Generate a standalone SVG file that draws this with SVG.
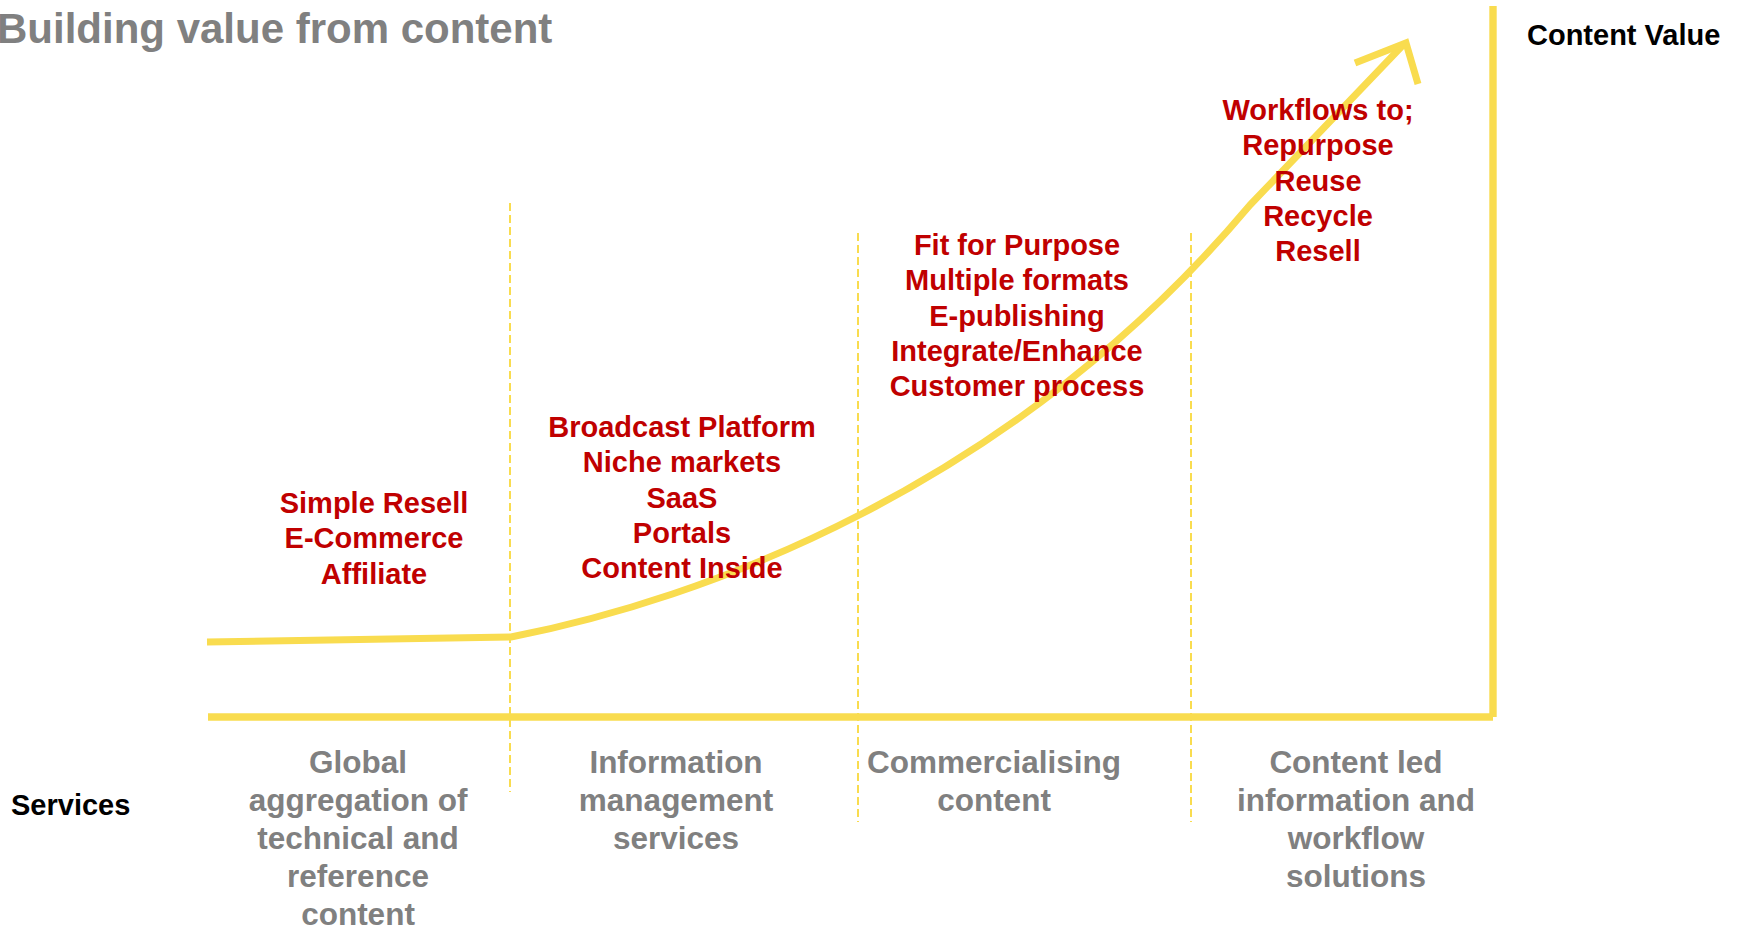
<svg xmlns="http://www.w3.org/2000/svg" width="1743" height="930" viewBox="0 0 1743 930">
  <style>
    text { font-family: "Liberation Sans", Arial, sans-serif; font-weight: bold; }
    .title { font-size: 42px; fill: #808080; }
    .axis-label { font-size: 29px; fill: #000000; }
    .offer { font-size: 29px; fill: #C00000; text-anchor: middle; }
    .service { font-size: 31.5px; fill: #808080; text-anchor: middle; }
    .axis { stroke: #F9DC4F; stroke-width: 7.4; fill: none; stroke-linecap: butt; }
    .divider { stroke: #F9DC4F; stroke-width: 2; stroke-dasharray: 8 4; fill: none; }
    .growth { stroke: #F9DC4F; stroke-width: 7; fill: none; stroke-linecap: butt; stroke-linejoin: round; }
    .head { stroke: #F9DC4F; stroke-width: 7; fill: none; stroke-linecap: butt; stroke-linejoin: miter; stroke-miterlimit: 10; }
  </style>

  <rect width="1743" height="930" fill="#FFFFFF"/>

  <text id="title" class="title" x="-3" y="43">Building value from content</text>

  <g id="axis-labels">
    <text class="axis-label" x="1527" y="45">Content Value</text>
    <text class="axis-label" x="11" y="815">Services</text>
  </g>

  <g id="connectors">
    <!-- stage dividers -->
    <line class="divider" x1="510" y1="203" x2="510" y2="792"/>
    <line class="divider" x1="858" y1="233" x2="858" y2="822"/>
    <line class="divider" x1="1191" y1="233" x2="1191" y2="822"/>
    <!-- axes -->
    <line class="axis" x1="208" y1="717" x2="1493" y2="717"/>
    <line class="axis" x1="1493" y1="6" x2="1493" y2="717"/>
    <!-- value growth curve with open arrowhead -->
    <path class="growth" d="M207,642 L511,637 C700,600 1010,490 1250,205 L1404,44"/>
    <polyline class="head" points="1355,63 1406,43 1418,84"/>
  </g>

  <g id="stage-aggregation">
    <text class="offer" x="374" y="513">Simple Resell</text>
    <text class="offer" x="374" y="548.3">E-Commerce</text>
    <text class="offer" x="374" y="583.6">Affiliate</text>
    <text class="service" x="358" y="773">Global</text>
    <text class="service" x="358" y="811">aggregation of</text>
    <text class="service" x="358" y="849">technical and</text>
    <text class="service" x="358" y="887">reference</text>
    <text class="service" x="358" y="925">content</text>
  </g>

  <g id="stage-information">
    <text class="offer" x="682" y="437">Broadcast Platform</text>
    <text class="offer" x="682" y="472.3">Niche markets</text>
    <text class="offer" x="682" y="507.6">SaaS</text>
    <text class="offer" x="682" y="542.9">Portals</text>
    <text class="offer" x="682" y="578.2">Content Inside</text>
    <text class="service" x="676" y="773">Information</text>
    <text class="service" x="676" y="811">management</text>
    <text class="service" x="676" y="849">services</text>
  </g>

  <g id="stage-commercialising">
    <text class="offer" x="1017" y="255">Fit for Purpose</text>
    <text class="offer" x="1017" y="290.3">Multiple formats</text>
    <text class="offer" x="1017" y="325.6">E-publishing</text>
    <text class="offer" x="1017" y="360.9">Integrate/Enhance</text>
    <text class="offer" x="1017" y="396.2">Customer process</text>
    <text class="service" x="994" y="773">Commercialising</text>
    <text class="service" x="994" y="811">content</text>
  </g>

  <g id="stage-workflow">
    <text class="offer" x="1318" y="120">Workflows to;</text>
    <text class="offer" x="1318" y="155.3">Repurpose</text>
    <text class="offer" x="1318" y="190.6">Reuse</text>
    <text class="offer" x="1318" y="225.9">Recycle</text>
    <text class="offer" x="1318" y="261.2">Resell</text>
    <text class="service" x="1356" y="773">Content led</text>
    <text class="service" x="1356" y="811">information and</text>
    <text class="service" x="1356" y="849">workflow</text>
    <text class="service" x="1356" y="887">solutions</text>
  </g>
</svg>
